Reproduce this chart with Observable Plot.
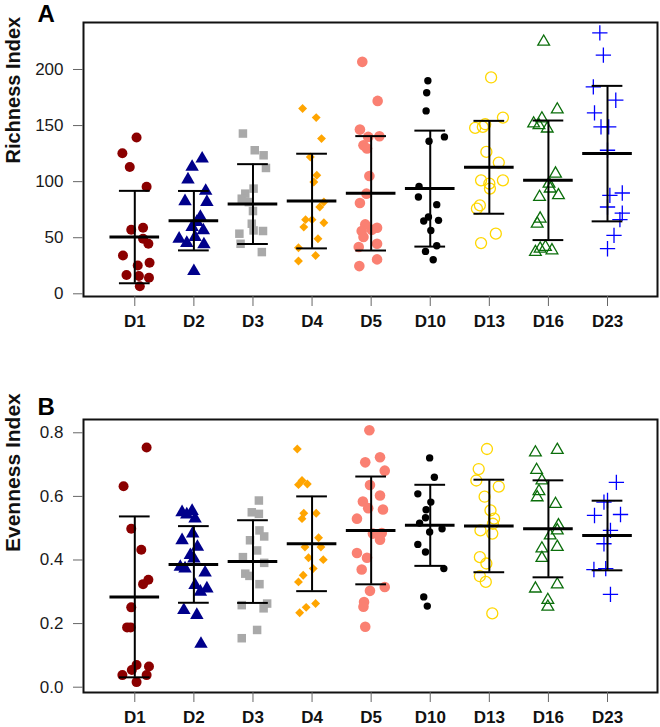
<!DOCTYPE html>
<html><head><meta charset="utf-8">
<script src="https://cdn.jsdelivr.net/npm/d3@7"></script>
<script src="https://cdn.jsdelivr.net/npm/@observablehq/plot@0.6"></script>
<style>
body{margin:0;background:#fff;}
#chart{width:660px;height:727px;overflow:hidden;}
#chart svg{display:block;}
</style></head><body><div id="chart"></div>
<script>
// ---------- categories ----------
const groups = ["D1","D2","D3","D4","D5","D10","D13","D16","D23"];

// ---------- Richness Index: [jitter offset (group units), value] ----------
const richD1 = [[0.03,139.3],[-0.21,125.3],[-0.085,113.1],[0.2,95.5],[-0.06,57.1],[0.14,58.9],[0.14,49.1],[0.23,44.6],[-0.2,34.2],[0.05,25.3],[0.25,27.7],[-0.14,16.7],[0.07,15.8],[0.24,14.3],[0.085,6.8]];
const richD2 = [[0.14,120.5],[-0.03,113.1],[-0.1,101.8],[0.2,91.7],[-0.15,82.4],[0.22,81.8],[0.11,68.5],[0.05,64],[-0.03,59.5],[0.16,56.5],[-0.25,49.1],[0.02,50.6],[-0.12,45.2],[0.17,44.0],[0,20.2]];
const richD3 = [[-0.17,142.9],[0.03,128],[0.18,123.5],[0.22,112.2],[0.01,93.8],[-0.13,89.3],[-0.19,84.8],[-0.07,81.8],[0,73.8],[-0.02,62.5],[0.17,56],[-0.23,53.6],[0.01,56.5],[-0.21,44.6],[0.15,37.2]];
const richD4 = [[-0.16,165.2],[0.07,157.1],[0.16,138.4],[-0.03,122],[0.08,105.7],[0.03,99.7],[0.2,81.8],[0.13,77.4],[-0.11,66.1],[0,66.1],[-0.14,59.5],[0.2,63.4],[0.1,49.1],[-0.23,41.1],[0.06,34.2],[-0.23,29.2]];
const richD5 = [[-0.15,206.8],[0.11,172],[-0.19,146.4],[-0.05,139.9],[0.14,140.5],[-0.13,132.4],[-0.07,129.5],[-0.03,105],[-0.08,89.3],[-0.19,81],[-0.1,61.9],[-0.16,56],[0.1,58.9],[0.01,57.1],[-0.13,50.6],[0.1,44.6],[-0.21,41.7],[0.1,30.7],[-0.2,24.7]];
const richD10 = [[-0.04,189.9],[-0.06,179.2],[-0.07,163.1],[0.24,139.9],[-0.02,136],[-0.19,95.8],[-0.2,86.3],[0.11,79.5],[-0.03,68.5],[0.14,65.5],[-0.11,64.9],[0.01,56.5],[0.11,42.9],[-0.08,37.8],[0.05,30.4]];
const richD13 = [[0.03,192.9],[0.23,157.1],[-0.07,151.2],[-0.24,147.9],[-0.11,148.8],[-0.05,126.5],[0.16,117],[-0.14,101.2],[0.23,101.2],[0,98.2],[0.01,93.8],[-0.16,78.9],[-0.21,75.9],[0.11,53.6],[-0.14,45.2]];
const richD16 = [[-0.08,224.7],[0.15,164.3],[-0.25,151.8],[-0.11,156.3],[-0.16,150.3],[-0.02,147.3],[0.12,107.1],[0.01,98.2],[0.03,93.8],[0.17,87.8],[-0.15,86.3],[-0.14,67],[-0.19,62.5],[-0.14,40.2],[-0.05,41.7],[0.06,38.7],[-0.22,37.2]];
const richD23 = [[-0.13,232.7],[-0.07,212.8],[-0.24,184.5],[0.14,172.6],[-0.22,161.3],[-0.11,148.8],[0.02,148.8],[0,128],[0.25,89.9],[0.04,87.8],[0,77.4],[0.25,72],[0.21,66.1],[0.11,52.1],[0,40.2]];
const richMean = [50.6,65.2,80,82.7,89.6,93.8,112.8,101.2,125];
const richSD   = [41.2,26.5,35.6,42.2,51,51.7,41.4,53.3,60.4];

// ---------- Evenness Index ----------
const evenD1 = [[0.2,0.754],[-0.19,0.632],[-0.06,0.498],[0.11,0.432],[0.23,0.338],[0.14,0.324],[-0.06,0.251],[-0.13,0.188],[-0.07,0.188],[0.03,0.07],[0.24,0.065],[-0.21,0.038],[-0.05,0.054],[0.2,0.038],[0.03,0.016]];
const evenD2 = [[-0.2,0.55],[-0.03,0.554],[-0.12,0.543],[0.02,0.53],[-0.02,0.483],[-0.2,0.462],[0.06,0.441],[-0.06,0.415],[0,0.404],[-0.23,0.378],[-0.15,0.373],[0.19,0.36],[0.02,0.321],[0.22,0.31],[0.11,0.3],[-0.17,0.242],[0.05,0.227],[0.12,0.136]];
const evenD3 = [[0.1,0.587],[-0.02,0.55],[0.1,0.545],[0.11,0.493],[0.19,0.474],[-0.05,0.462],[0.07,0.43],[-0.17,0.409],[0.19,0.391],[-0.13,0.357],[-0.06,0.35],[0.11,0.324],[-0.19,0.258],[0.24,0.263],[0.18,0.248],[0.07,0.18],[-0.19,0.154]];
const evenD4 = [[-0.25,0.749],[-0.17,0.65],[-0.08,0.639],[-0.23,0.637],[-0.14,0.547],[0.07,0.547],[-0.17,0.53],[0.11,0.47],[-0.12,0.441],[0.15,0.441],[-0.06,0.407],[0.19,0.401],[0.02,0.373],[-0.15,0.352],[-0.23,0.331],[0.06,0.263],[-0.1,0.251],[-0.21,0.234]];
const evenD5 = [[-0.03,0.808],[0.15,0.723],[-0.1,0.707],[0.23,0.681],[-0.02,0.636],[0.15,0.603],[-0.14,0.584],[-0.05,0.563],[0.2,0.559],[-0.24,0.53],[0.03,0.483],[0.18,0.485],[0.15,0.464],[-0.24,0.422],[-0.07,0.407],[-0.16,0.37],[-0.02,0.303],[0.23,0.315],[-0.12,0.268],[-0.13,0.253],[-0.1,0.19]];
const evenD10 = [[-0.01,0.721],[0.07,0.66],[-0.21,0.608],[0.01,0.582],[-0.07,0.558],[-0.08,0.533],[-0.18,0.516],[0.2,0.498],[-0.01,0.488],[-0.21,0.449],[-0.08,0.425],[0.23,0.373],[-0.11,0.284],[-0.05,0.255]];
const evenD13 = [[-0.04,0.749],[-0.18,0.686],[-0.22,0.65],[0.16,0.631],[-0.08,0.599],[0.02,0.556],[0.08,0.53],[0.06,0.514],[-0.15,0.493],[0.05,0.483],[-0.16,0.409],[-0.05,0.389],[-0.16,0.349],[-0.06,0.331],[0.05,0.232]];
const evenD16 = [[-0.22,0.738],[0.15,0.746],[-0.2,0.683],[-0.11,0.65],[-0.16,0.616],[-0.19,0.597],[0.12,0.576],[0.17,0.509],[0.15,0.493],[0.03,0.477],[0.15,0.441],[-0.11,0.436],[-0.11,0.406],[-0.22,0.31],[0.15,0.323],[-0.01,0.274],[-0.01,0.253]];
const evenD23 = [[0.15,0.644],[0,0.587],[-0.06,0.582],[-0.22,0.54],[0.22,0.543],[0.05,0.493],[0,0.477],[-0.06,0.451],[-0.23,0.37],[-0.03,0.373],[0.05,0.292]];
const evenMean = [0.284,0.386,0.395,0.451,0.493,0.509,0.507,0.498,0.477];
const evenSD   = [0.253,0.1205,0.13,0.149,0.1695,0.1275,0.1455,0.1525,0.1095];

// ---------- styles ----------
const colors  = ["#8B0000","#00008B","#A9A9A9","#FFA500","#FA8072","#000000","#FFD700","#0B6E0B","#0000FF"];
const symbols = ["circle","triangle","square","diamond2","circle","circle","circle","triangle2","plus"];
const filled  = [true,true,true,true,true,true,false,false,false];
const radii   = [5,5,4.8,4,5.3,3.7,5.5,5.6,5];
const FONT = "'Liberation Sans', Arial, Helvetica, sans-serif";

function buildPanel({series, means, sds, yDomain, yTicks, yTickFormat, label, letter, height, marginTop, marginBottom, labelDy, labelSize, letterDy}) {
  const stats = groups.map((g, i) => ({pos: i + 1, mean: means[i], lo: means[i] - sds[i], hi: means[i] + sds[i]}));
  const dotMarks = series.map((pts, i) => {
    const rows = pts.map(([off, v]) => ({x: i + 1 + off, y: v}));
    return Plot.dot(rows, {
      x: "x", y: "y", symbol: symbols[i], r: radii[i],
      fill: filled[i] ? colors[i] : "none",
      stroke: filled[i] ? "none" : colors[i],
      strokeWidth: filled[i] ? 0 : 1.3
    });
  });
  return Plot.plot({
    width: 660, height, marginTop, marginBottom, marginLeft: 83, marginRight: 3,
    style: {fontFamily: FONT, background: "white", color: "#111"},
    x: {domain: [0.132, 9.846]},
    y: {domain: yDomain},
    marks: [
      ...dotMarks,
      Plot.ruleX(stats, {x: "pos", y1: "lo", y2: "hi", stroke: "#000", strokeWidth: 2}),
      Plot.ruleY(stats, {y: "hi", x1: d => d.pos - 0.26, x2: d => d.pos + 0.26, stroke: "#000", strokeWidth: 2}),
      Plot.ruleY(stats, {y: "lo", x1: d => d.pos - 0.26, x2: d => d.pos + 0.26, stroke: "#000", strokeWidth: 2}),
      Plot.ruleY(stats, {y: "mean", x1: d => d.pos - 0.42, x2: d => d.pos + 0.42, stroke: "#000", strokeWidth: 3}),
      Plot.frame({stroke: "#111", strokeWidth: 2}),
      Plot.axisY({ticks: yTicks, tickFormat: yTickFormat, tickSize: 10, tickPadding: 10, fontSize: 17, stroke: "#666", fill: "#1a1a1a", label: null}),
      Plot.axisX({ticks: d3.range(1, 10), tickFormat: i => groups[i - 1], tickSize: 10, tickPadding: 8, fontSize: 17, fontWeight: "bold", stroke: "#666", fill: "#111", label: null}),
      Plot.text([label], {frameAnchor: "left", dx: -70, dy: labelDy, rotate: -90, fontSize: labelSize, fontWeight: "bold", fill: "#111"}),
      Plot.text([letter], {frameAnchor: "top-left", dx: -46, dy: letterDy, textAnchor: "start", lineAnchor: "bottom", fontSize: 24, fontWeight: "bold", fill: "#000"})
    ]
  });
}

const chart = document.getElementById("chart");
chart.append(buildPanel({
  series: [richD1, richD2, richD3, richD4, richD5, richD10, richD13, richD16, richD23],
  means: richMean, sds: richSD,
  yDomain: [-2.4, 241.9], yTicks: [0, 50, 100, 150, 200], yTickFormat: d3.format("d"),
  label: "Richness Index", letter: "A",
  height: 360, marginTop: 22, marginBottom: 64, labelDy: 4, labelSize: 20, letterDy: -1
}));
chart.append(buildPanel({
  series: [evenD1, evenD2, evenD3, evenD4, evenD5, evenD10, evenD13, evenD16, evenD23],
  means: evenMean, sds: evenSD,
  yDomain: [-0.0167, 0.8418], yTicks: [0, 0.2, 0.4, 0.6, 0.8], yTickFormat: d3.format(".1f"),
  label: "Evenness Index", letter: "B",
  height: 367, marginTop: 59, marginBottom: 35, labelDy: -4, labelSize: 21, letterDy: -5
}));
</script></body></html>
